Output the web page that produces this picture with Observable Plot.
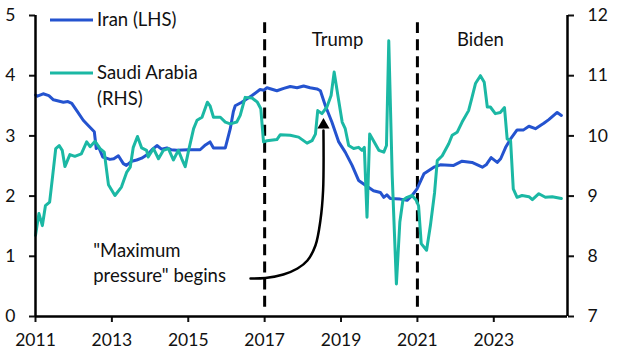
<!DOCTYPE html>
<html><head><meta charset="utf-8">
<script src="https://cdn.jsdelivr.net/npm/d3@7"></script>
<script src="https://cdn.jsdelivr.net/npm/@observablehq/plot@0.6"></script>
<style>body{margin:0;background:#fff}</style>
</head><body><div id="chart"></div>
<script>
const FONT = "Lato, 'Noto Sans', sans-serif";
const FS = 17.5;
const FS_TEXT = 18.5;
const IRAN_COLOR = "#2453CF";
const SAUDI_COLOR = "#1BB8A4";

// Iran (LHS) — decimal year, value
const iranX = [2011.00,2011.05,2011.20,2011.35,2011.47,2011.60,2011.73,2011.85,2011.95,2012.08,2012.25,2012.40,2012.54,2012.59,2012.65,2012.76,2012.95,2013.05,2013.17,2013.30,2013.38,2013.52,2013.65,2013.78,2013.95,2014.05,2014.18,2014.30,2014.44,2014.55,2014.70,2015.00,2015.31,2015.45,2015.57,2015.66,2015.97,2016.10,2016.18,2016.23,2016.40,2016.55,2016.67,2016.88,2016.98,2017.06,2017.32,2017.50,2017.67,2017.85,2018.02,2018.19,2018.37,2018.46,2018.59,2018.76,2018.94,2019.11,2019.29,2019.46,2019.64,2019.85,2020.03,2020.12,2020.20,2020.29,2020.55,2020.73,2020.86,2020.99,2021.17,2021.43,2021.60,2021.95,2022.17,2022.43,2022.70,2022.80,2022.93,2023.09,2023.18,2023.31,2023.44,2023.61,2023.78,2023.92,2024.09,2024.31,2024.44,2024.66,2024.77];
const iranY = [3.68,3.66,3.70,3.67,3.60,3.58,3.56,3.57,3.54,3.42,3.26,3.16,3.07,2.79,2.82,2.65,2.61,2.62,2.67,2.54,2.51,2.58,2.60,2.63,2.70,2.77,2.84,2.78,2.80,2.77,2.76,2.77,2.77,2.85,2.90,2.80,2.80,3.12,3.40,3.50,3.56,3.62,3.67,3.77,3.76,3.80,3.75,3.79,3.82,3.80,3.83,3.80,3.78,3.75,3.50,3.23,2.90,2.73,2.51,2.26,2.18,2.09,2.06,1.98,2.02,1.96,1.95,1.93,2.01,2.12,2.37,2.48,2.52,2.51,2.58,2.56,2.48,2.52,2.64,2.56,2.62,2.81,2.95,3.10,3.10,3.16,3.12,3.21,3.27,3.39,3.34];

// Saudi Arabia (RHS) — decimal year, value
const saudiX = [2011.00,2011.09,2011.18,2011.26,2011.37,2011.45,2011.53,2011.62,2011.70,2011.77,2011.90,2012.03,2012.20,2012.34,2012.43,2012.56,2012.69,2012.80,2012.91,2013.08,2013.25,2013.39,2013.48,2013.56,2013.67,2013.78,2013.91,2013.95,2014.09,2014.22,2014.35,2014.48,2014.61,2014.74,2014.83,2014.92,2015.01,2015.14,2015.23,2015.36,2015.50,2015.57,2015.66,2015.84,2015.97,2016.10,2016.27,2016.36,2016.49,2016.67,2016.81,2016.90,2016.97,2017.06,2017.32,2017.41,2017.67,2017.89,2018.11,2018.24,2018.33,2018.39,2018.50,2018.63,2018.74,2018.82,2018.93,2019.03,2019.11,2019.20,2019.33,2019.46,2019.55,2019.61,2019.68,2019.75,2019.85,2019.99,2020.12,2020.19,2020.25,2020.34,2020.45,2020.54,2020.62,2020.73,2020.86,2020.97,2021.03,2021.10,2021.24,2021.34,2021.45,2021.52,2021.65,2021.82,2021.91,2022.04,2022.17,2022.34,2022.43,2022.52,2022.65,2022.75,2022.83,2022.91,2023.04,2023.17,2023.28,2023.35,2023.44,2023.51,2023.61,2023.74,2023.92,2024.01,2024.18,2024.35,2024.53,2024.77];
const saudiY = [8.35,8.71,8.51,8.84,8.90,9.34,9.79,9.84,9.76,9.49,9.69,9.66,9.70,9.90,9.82,9.91,9.79,9.73,9.19,9.01,9.15,9.40,9.48,9.81,9.99,9.80,9.76,9.65,9.79,9.62,9.76,9.79,9.60,9.76,9.62,9.49,9.76,10.12,10.26,10.31,10.56,10.50,10.31,10.31,10.23,10.20,10.23,10.34,10.64,10.63,10.56,10.45,9.90,9.92,9.94,10.02,10.01,9.98,9.88,9.92,10.03,10.42,10.37,10.48,10.67,11.06,10.62,10.23,10.12,9.84,9.79,9.81,9.76,9.81,8.65,10.03,9.92,9.76,9.73,9.84,11.58,9.34,7.54,8.57,8.93,8.98,9.01,8.93,8.84,8.21,8.10,8.51,9.06,9.59,9.67,9.87,10.01,10.06,10.23,10.42,10.64,10.87,11.00,10.89,10.48,10.48,10.37,10.39,10.47,9.95,9.92,9.12,8.98,9.01,8.99,8.94,9.04,8.98,8.99,8.96];

const xDomain = [2011, 2024.93];
const xTicks = [2011, 2013, 2015, 2017, 2019, 2021, 2023];
const leftTicks = [0, 1, 2, 3, 4, 5];
const leftLabels = ["0", "1", "2", "3", "4", "5"];
const rightBase = 7;
const rightLabels = ["7", "8", "9", "10", "11", "12"];

const eras = [2017, 2021];
const eraLabels = [{x: 2018.91, y: 4.60, text: "Trump"}, {x: 2022.65, y: 4.60, text: "Biden"}];
const noteText = [{x: 2012.51, y: 0.92, text: "\"Maximum\npressure\" begins"}];
const arrowX = [2016.63, 2017.02, 2017.49, 2017.86, 2018.12, 2018.33, 2018.46, 2018.53, 2018.54];
const arrowY = [0.631, 0.640, 0.698, 0.797, 0.930, 1.179, 1.595, 2.09, 3.09];
const arrowTip = [{x: 2018.54, y: 3.18}];

const legendItems = [
  {label: ["Iran (LHS)"], color: IRAN_COLOR},
  {label: ["Saudi Arabia", "(RHS)"], color: SAUDI_COLOR}
];

const iran = iranX.map((x, i) => ({x, y: iranY[i]}));
const saudi = saudiX.map((x, i) => ({x, y: saudiY[i] - rightBase}));
const arrow = arrowX.map((x, i) => ({x, y: arrowY[i]}));

function legend(index, scales, values, dims) {
  const g = d3.create("svg:g").attr("font-family", FONT).attr("font-size", FS_TEXT)
    .attr("fill", "#111").attr("text-anchor", "start");
  const rows = [5, 58];
  legendItems.forEach((item, i) => {
    const y = dims.marginTop + rows[i];
    g.append("line").attr("x1", 50).attr("x2", 93).attr("y1", y).attr("y2", y)
      .attr("stroke", item.color).attr("stroke-width", 3);
    item.label.forEach((t, j) => {
      g.append("text").attr("x", 97).attr("y", y + j * 25.6).attr("dy", "0.35em").text(t);
    });
  });
  return g.node();
}

const chart = Plot.plot({
  width: 622, height: 355,
  marginLeft: 35, marginRight: 55, marginTop: 15, marginBottom: 39,
  style: {fontFamily: FONT, fontSize: FS + "px", color: "#111", background: "#fff"},
  x: {domain: xDomain},
  y: {domain: [0, 5]},
  marks: [
    Plot.axisY(leftTicks, {anchor: "left", tickSize: 6, tickPadding: 14, tickFormat: (d, i) => leftLabels[i], fontSize: FS, label: null, strokeWidth: 2}),
    Plot.axisY(leftTicks, {anchor: "right", tickSize: 6, tickPadding: 14, tickFormat: (d, i) => rightLabels[i], fontSize: FS, label: null, strokeWidth: 2}),
    Plot.axisX(xTicks, {anchor: "bottom", tickSize: 6, tickPadding: 11, tickFormat: d => String(d), fontSize: FS, label: null, strokeWidth: 2}),
    Plot.ruleX(eras, {y1: 0.155, y2: 4.88, stroke: "#000", strokeWidth: 3, strokeDasharray: "11,6.1"}),
    Plot.line(iran, {x: "x", y: "y", stroke: IRAN_COLOR, strokeWidth: 3, strokeLinejoin: "round"}),
    Plot.line(saudi, {x: "x", y: "y", stroke: SAUDI_COLOR, strokeWidth: 3, strokeLinejoin: "round"}),
    Plot.line(arrow, {x: "x", y: "y", curve: "catmull-rom", stroke: "#000", strokeWidth: 2.5}),
    Plot.dot(arrowTip, {x: "x", y: "y", symbol: "triangle", r: 4.5, fill: "#000", stroke: null}),
    Plot.text(eraLabels, {x: "x", y: "y", text: "text", fontSize: FS_TEXT, fill: "#111"}),
    Plot.text(noteText, {x: "x", y: "y", text: "text", textAnchor: "start", lineAnchor: "middle", lineHeight: 1.38, fontSize: FS_TEXT, fill: "#111"}),
    Plot.ruleX([xDomain[0], xDomain[1]], {y1: 0, y2: 5, stroke: "#000", strokeWidth: 2.5}),
    Plot.ruleY([0], {stroke: "#000", strokeWidth: 2.5}),
    legend
  ]
});
document.getElementById("chart").appendChild(chart);
</script></body></html>
